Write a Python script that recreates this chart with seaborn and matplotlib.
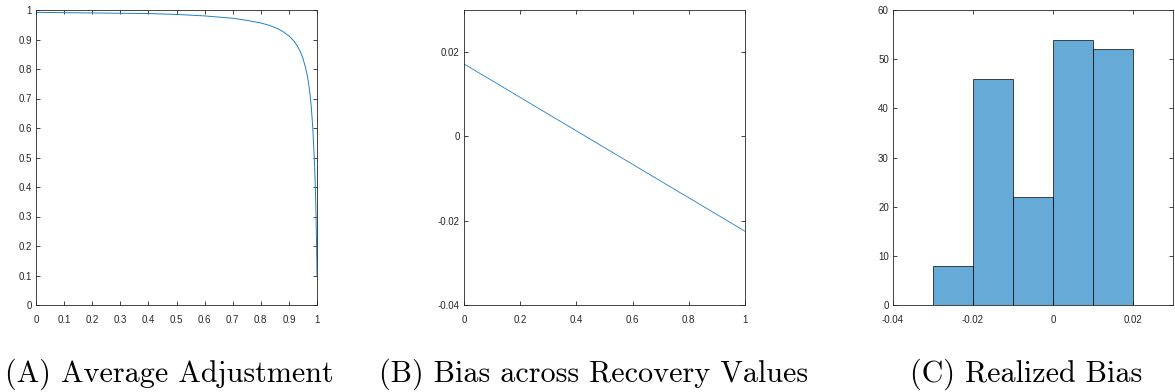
import numpy as np
import pandas as pd
import matplotlib
matplotlib.use("Agg")
import matplotlib.pyplot as plt
import seaborn as sns

# ---- Data ----
# (A) Average Adjustment
adj_x = [0.0, 0.1, 0.2, 0.3, 0.4, 0.5, 0.6, 0.7, 0.75, 0.8, 0.83, 0.86, 0.88,
         0.9, 0.91, 0.92, 0.93, 0.94, 0.95, 0.96, 0.965, 0.97, 0.975, 0.98,
         0.985, 0.99, 0.993, 0.996, 0.998, 1.0]
adj_y = [0.992, 0.991, 0.990, 0.989, 0.988, 0.985, 0.980, 0.972, 0.965, 0.956,
         0.948, 0.937, 0.926, 0.912, 0.903, 0.892, 0.878, 0.860, 0.836, 0.802,
         0.780, 0.752, 0.716, 0.668, 0.600, 0.505, 0.430, 0.330, 0.230, 0.100]

# (B) Bias across Recovery Values
rec_x = [0.0, 1.0]
bias_y = [0.0172, -0.0225]

# (C) Realized Bias histogram
bin_edges = [-0.03, -0.02, -0.01, 0.0, 0.01, 0.02]
bin_counts = [8, 46, 22, 54, 52]

captions = ["(A) Average Adjustment", "(B) Bias across Recovery Values", "(C) Realized Bias"]

# ---- Styling ----
sns.set_theme(style="white")
plt.rcParams['font.family'] = ['Liberation Sans', 'DejaVu Sans']

W, H = 1175, 392
fig = plt.figure(figsize=(W / 100, H / 100), dpi=100)

def px_axes(left, right, top, bottom):
    return fig.add_axes([left / W, 1 - bottom / H, (right - left) / W, (bottom - top) / H])

axA = px_axes(36, 317, 10, 305)
axB = px_axes(464, 745, 10, 305)
axC = px_axes(893, 1173, 10, 305)

line_color = "#1f7fc8"
axis_color = "#262626"

def style(ax):
    for s in ax.spines.values():
        s.set_visible(True)
        s.set_color(axis_color)
        s.set_linewidth(0.6)
    ax.tick_params(direction="in", length=3, width=0.6, color=axis_color,
                   labelsize=7, labelcolor=axis_color, top=True, right=True,
                   bottom=True, left=True)
    ax.tick_params(axis="x", pad=7)
    ax.tick_params(axis="y", pad=3)
    ax.set_xlabel("")
    ax.set_ylabel("")

def fmt(v):
    s = f"{v:.2f}".rstrip("0").rstrip(".")
    if s in ("-0", ""):
        s = "0"
    return s

# (A)
dfA = pd.DataFrame({"x": adj_x, "y": adj_y})
sns.lineplot(data=dfA, x="x", y="y", ax=axA, color=line_color, linewidth=0.7)
axA.set_xlim(0, 1)
axA.set_ylim(0, 1)
tA = [round(i * 0.1, 1) for i in range(11)]
axA.set_xticks(tA)
axA.set_xticklabels([fmt(t) for t in tA])
axA.set_yticks(tA)
axA.set_yticklabels([fmt(t) for t in tA])
style(axA)

# (B)
dfB = pd.DataFrame({"x": rec_x, "y": bias_y})
sns.lineplot(data=dfB, x="x", y="y", ax=axB, color=line_color, linewidth=0.6)
axB.set_xlim(0, 1)
axB.set_ylim(-0.04, 0.03)
txB = [0, 0.2, 0.4, 0.6, 0.8, 1]
axB.set_xticks(txB)
axB.set_xticklabels([fmt(t) for t in txB])
tyB = [-0.04, -0.02, 0, 0.02]
axB.set_yticks(tyB)
axB.set_yticklabels([fmt(t) for t in tyB])
style(axB)

# (C)
centers = [(bin_edges[i] + bin_edges[i + 1]) / 2 for i in range(len(bin_counts))]
dfC = pd.DataFrame({"x": centers, "w": bin_counts})
sns.histplot(data=dfC, x="x", weights="w", bins=bin_edges, ax=axC,
             color="#0072BD", alpha=0.6, edgecolor="black", linewidth=0.7)
for p in axC.patches:
    p.set_edgecolor((0, 0, 0, 0.7))
axC.set_xlim(-0.04, 0.03)
axC.set_ylim(0, 60)
txC = [-0.04, -0.02, 0, 0.02]
axC.set_xticks(txC)
axC.set_xticklabels([fmt(t) for t in txC])
tyC = [0, 10, 20, 30, 40, 50, 60]
axC.set_yticks(tyC)
axC.set_yticklabels([str(t) for t in tyC])
style(axC)

# Captions
cap_x = [169, 594, 1026]
for cx, cap in zip(cap_x, captions):
    fig.text(cx / W, 1 - 382 / H, cap, ha="center", va="baseline",
             fontsize=21.7, family=["cmr10", "DejaVu Serif"], color="black")

fig.savefig("out.png", dpi=100)
